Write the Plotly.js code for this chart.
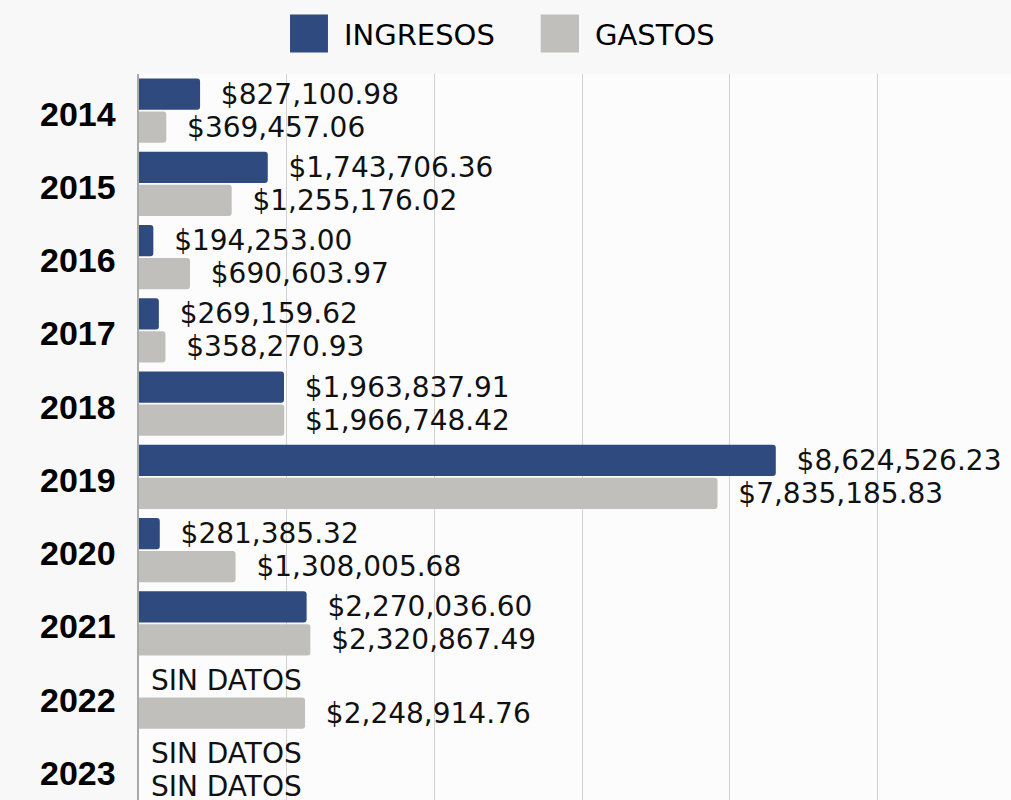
<!DOCTYPE html>
<html>
<head>
<meta charset="utf-8">
<script src="https://cdn.plot.ly/plotly-3.0.1.min.js"></script>
<style>
html,body{margin:0;padding:0;background:#f8f8f8;}
#chart{width:1011px;height:800px;}
</style>
</head>
<body>
<div id="chart"></div>
<script>
var years = ['2014','2015','2016','2017','2018','2019','2020','2021','2022','2023'];
var ingresos = [827100.98, 1743706.36, 194253.00, 269159.62, 1963837.91, 8624526.23, 281385.32, 2270036.60, null, null];
var gastos = [369457.06, 1255176.02, 690603.97, 358270.93, 1966748.42, 7835185.83, 1308005.68, 2320867.49, 2248914.76, null];
var seriesNames = ['INGRESOS', 'GASTOS'];
var noDataLabel = 'SIN DATOS';

var colors = ['#2e4a7e', '#c0bfbb'];
var labelFont = 'DejaVu Sans, sans-serif';

function fmt(v) {
  if (v === null) return '\u00a0' + noDataLabel;
  return '\u00a0\u00a0$' + v.toLocaleString('en-US', {minimumFractionDigits: 2, maximumFractionDigits: 2});
}

function makeTrace(vals, name, color) {
  return {
    type: 'bar',
    orientation: 'h',
    name: name,
    y: years,
    x: vals.map(function(v){ return v === null ? 0 : v; }),
    text: vals.map(fmt),
    textposition: 'outside',
    constraintext: 'none',
    cliponaxis: false,
    textfont: {family: labelFont, size: 28, color: '#111'},
    marker: {color: color, cornerradius: 3, line: {width: 0}},
    hoverinfo: 'none',
    showlegend: false
  };
}

var data = [
  makeTrace(ingresos, seriesNames[0], colors[0]),
  makeTrace(gastos, seriesNames[1], colors[1])
];

// year labels, left-aligned like the reference (y given as category index)
var annotations = years.map(function(y, i){
  return {
    xref: 'paper', yref: 'y', x: -0.1158, y: i,
    xanchor: 'left', yanchor: 'middle', yshift: -3,
    text: y, showarrow: false,
    font: {family: 'Liberation Sans, Arial, sans-serif', size: 34, color: '#000', weight: 'bold'}
  };
});
annotations.push({
  xref: 'paper', yref: 'paper', x: 0.2328, y: 1.0543, xanchor: 'left', yanchor: 'middle',
  text: seriesNames[0], showarrow: false,
  font: {family: labelFont, size: 29, color: '#000'}
});
annotations.push({
  xref: 'paper', yref: 'paper', x: 0.5206, y: 1.0543, xanchor: 'left', yanchor: 'middle',
  text: seriesNames[1], showarrow: false,
  font: {family: labelFont, size: 29, color: '#000'}
});

var shapes = [
  {type: 'rect', xref: 'paper', yref: 'paper', x0: 0.1732, x1: 0.2167, y0: 1.0295, y1: 1.0819,
   fillcolor: colors[0], line: {width: 0}},
  {type: 'rect', xref: 'paper', yref: 'paper', x0: 0.4607, x1: 0.5046, y0: 1.0295, y1: 1.0819,
   fillcolor: colors[1], line: {width: 0}}
];

var layout = {
  width: 1011,
  height: 800,
  margin: {l: 139, r: 0, t: 74.4, b: 0, pad: 0},
  paper_bgcolor: '#f8f8f8',
  plot_bgcolor: '#fcfcfc',
  barmode: 'group',
  bargap: 0.1,
  bargroupgap: 0.05,
  showlegend: false,
  xaxis: {
    range: [0, 11810000],
    dtick: 2000000,
    showgrid: true,
    gridcolor: '#d2d2d2',
    gridwidth: 1,
    zeroline: false,
    showticklabels: false,
    ticks: '',
    automargin: false,
    fixedrange: true
  },
  yaxis: {
    type: 'category',
    categoryorder: 'array',
    categoryarray: years,
    range: [9.41, -0.5],
    showticklabels: false,
    showgrid: false,
    showline: true,
    linecolor: '#a9a9a9',
    linewidth: 2,
    ticks: '',
    zeroline: false,
    automargin: false,
    fixedrange: true
  },
  annotations: annotations,
  shapes: shapes
};

Plotly.newPlot('chart', data, layout, {displayModeBar: false, staticPlot: true});
</script>
</body>
</html>
